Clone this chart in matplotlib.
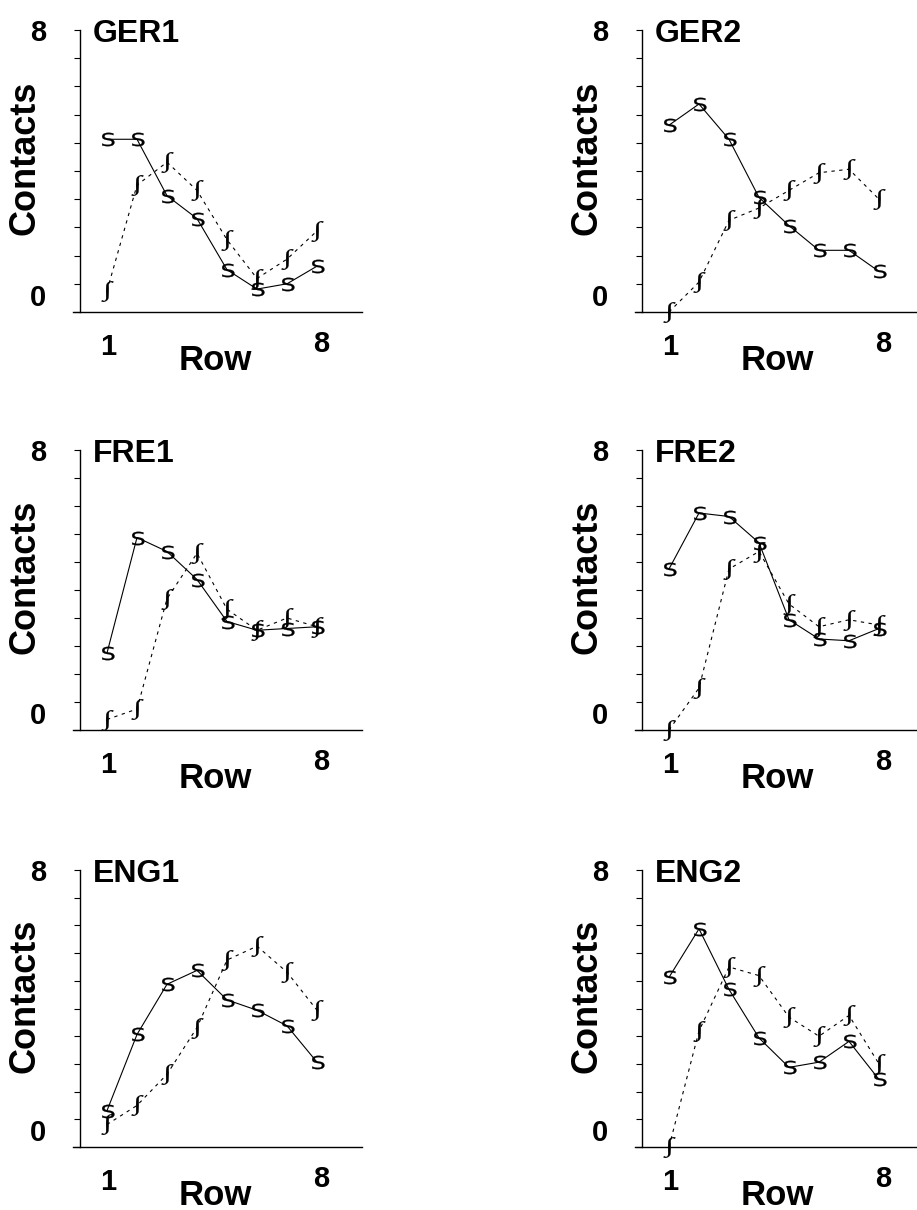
import numpy as np
import matplotlib.pyplot as plt
from matplotlib.textpath import TextPath
from matplotlib.font_manager import FontProperties
from matplotlib.path import Path

plt.rcParams['font.family'] = ['Liberation Sans', 'DejaVu Sans']

rows = np.arange(1, 9)
titles = ['GER1', 'GER2', 'FRE1', 'FRE2', 'ENG1', 'ENG2']

# solid line ("S") and dotted line ("long s") contacts per row
ger1_s = [4.9, 4.9, 3.3, 2.65, 1.2, 0.65, 0.8, 1.3]
ger1_f = [0.6, 3.6, 4.25, 3.45, 2.05, 0.95, 1.5, 2.3]
ger2_s = [5.3, 5.9, 4.9, 3.25, 2.45, 1.75, 1.75, 1.15]
ger2_f = [0.0, 0.85, 2.6, 2.95, 3.45, 3.95, 4.05, 3.2]
fre1_s = [2.2, 5.5, 5.1, 4.3, 3.1, 2.85, 2.9, 2.95]
fre1_f = [0.3, 0.6, 3.75, 5.05, 3.45, 2.85, 3.2, 2.95]
fre2_s = [4.6, 6.2, 6.1, 5.35, 3.15, 2.6, 2.55, 2.9]
fre2_f = [0.0, 1.2, 4.6, 5.1, 3.6, 2.95, 3.15, 3.0]
eng1_s = [1.05, 3.25, 4.7, 5.1, 4.25, 3.95, 3.5, 2.45]
eng1_f = [0.65, 1.2, 2.1, 3.45, 5.4, 5.8, 5.05, 3.95]
eng2_s = [4.9, 6.3, 4.55, 3.15, 2.3, 2.45, 3.05, 1.95]
eng2_f = [0.0, 3.35, 5.2, 4.95, 3.75, 3.2, 3.8, 2.4]

solid = [ger1_s, ger2_s, fre1_s, fre2_s, eng1_s, eng2_s]
dotted = [ger1_f, ger2_f, fre1_f, fre2_f, eng1_f, eng2_f]


def glyph(ch, sx, family='DejaVu Sans'):
    # letter shape used as plot marker, stretched sideways
    p = TextPath((0, 0), ch, size=10, prop=FontProperties(family=family))
    v = p.vertices.copy()
    v -= (v.min(axis=0) + v.max(axis=0)) / 2
    v[:, 0] *= sx
    return Path(v, p.codes)


m_s = glyph('S', 1.35)
m_f = glyph('\u222b', 1.5, family='Liberation Serif')

fig = plt.figure(figsize=(9.17, 12.1), dpi=100)
W, H = 917, 1210
lefts = [80, 642]
bottoms = [312, 730, 1147]
heights = [282, 280, 277]
aw = 282

for k in range(6):
    r, c = divmod(k, 2)
    ax = fig.add_axes([lefts[c] / W, 1 - bottoms[r] / H, aw / W, heights[r] / H])

    ax.plot(rows, solid[k], color='k', lw=0.8, marker=m_s,
            ms=10, mew=0.2, clip_on=False)
    ax.plot(rows, dotted[k], color='k', lw=0.8, linestyle=(0, (3, 4)),
            marker=m_f, ms=15, mew=0.1, clip_on=False)

    ax.set_xlim(0.1, 9.5)
    ax.set_ylim(0, 8)
    for s in ['top', 'right', 'bottom']:
        ax.spines[s].set_visible(False)
    ax.spines['left'].set_linewidth(1.0)
    ax.plot([-0.025, 1], [0, 0], transform=ax.get_yaxis_transform(),
            color='k', lw=1.0, clip_on=False)
    ax.set_xticks([])
    ax.set_yticks(np.linspace(0, 8, 11))
    ax.set_yticklabels([])
    ax.tick_params(axis='y', length=4, width=0.8, direction='out')

    ax.text(0.045, 0.957, titles[k], transform=ax.transAxes, fontsize=23,
            fontweight='bold', va='baseline', ha='left')
    ax.text(-0.195, 0.546, 'Contacts', transform=ax.transAxes, rotation=90,
            fontsize=26, fontweight='bold', ha='center', va='center')

    yt = ax.get_yaxis_transform()
    ax.annotate('8', xy=(0, 8), xycoords=yt, xytext=(-30, -2),
                textcoords='offset points', fontsize=21, fontweight='bold',
                ha='center', va='center')
    ax.annotate('0', xy=(0, 0), xycoords=yt, xytext=(-30, 10),
                textcoords='offset points', fontsize=21, fontweight='bold',
                ha='center', va='center')
    xt = ax.get_xaxis_transform()
    ax.annotate('1', xy=(1, 0), xycoords=xt, xytext=(1, -25),
                textcoords='offset points', fontsize=21, fontweight='bold',
                ha='center', va='center')
    ax.annotate('8', xy=(8, 0), xycoords=xt, xytext=(3, -23),
                textcoords='offset points', fontsize=21, fontweight='bold',
                ha='center', va='center')
    ax.annotate('Row', xy=(4.6, 0), xycoords=xt, xytext=(0, -35),
                textcoords='offset points', fontsize=25, fontweight='bold',
                ha='center', va='center')

fig.savefig('out.png', dpi=100)
